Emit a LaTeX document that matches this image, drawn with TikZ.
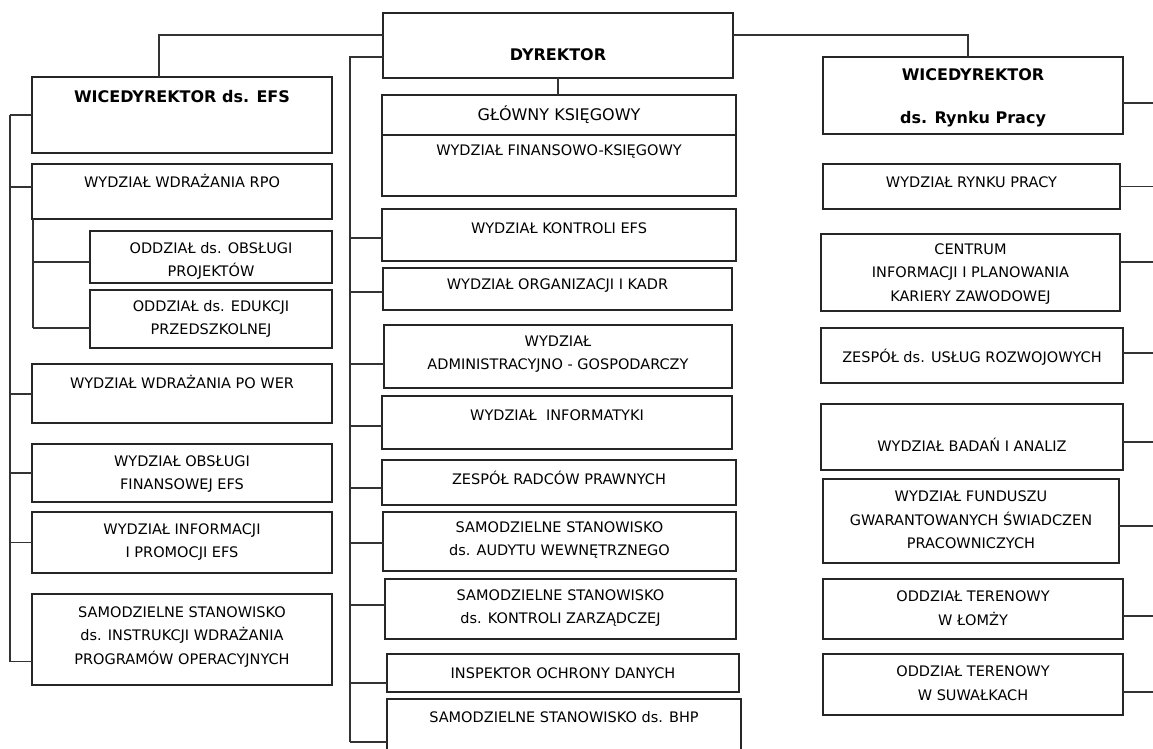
\documentclass[tikz,border=0pt]{standalone}
\usepackage{fontspec}
\setmainfont{DejaVu Sans}
\usetikzlibrary{calc}
\newcommand{\bxfont}{\fontsize{14.5}{23.5}\selectfont}
\newcommand{\hdfont}{\fontsize{16}{20}\selectfont\bfseries}
\newcommand{\orgcell}[7]{%
  \node[cellbox, minimum width={(#4-#2)*1pt}, minimum height={(#5-#3)*1pt}]
    (#1) at ({(#2+#4)/2}, {(#3+#5)/2}) {};
  \node[celltext] (#1-t) at ({(#2+#4)/2}, #6) {#7};}
\tikzset{
  cellbox/.style={draw=black!85, line width=1.3pt, inner sep=0pt, outer sep=0pt},
  celltext/.style={font=\bxfont, align=center, inner sep=0pt},
  link/.style={draw=black!80, line width=1.2pt}
}

\begin{document}
\begin{tikzpicture}[x=1pt, y=-1pt]
    \clip (0,0) rectangle (1153,749);
    \coordinate (lsp) at (10,0);
    \coordinate (isp) at (33,0);
    \coordinate (msp) at (350,0);
    \coordinate (rsp) at (1153,0);

    \orgcell{efs}{32}{77}{332}{153}{97}{\hdfont WICEDYREKTOR ds. EFS}
    \orgcell{rpo}{32}{164}{332}{219}{181}{WYDZIAŁ WDRAŻANIA RPO}
    \orgcell{obs}{90}{231}{332}{283}{261}{ODDZIAŁ ds. OBSŁUGI\\PROJEKTÓW}
    \orgcell{edu}{90}{290}{332}{348}{319}{ODDZIAŁ ds. EDUKCJI\\PRZEDSZKOLNEJ}
    \orgcell{wer}{32}{364}{332}{423}{382}{WYDZIAŁ WDRAŻANIA PO WER}
    \orgcell{fin}{32}{444}{332}{502}{474}{WYDZIAŁ OBSŁUGI\\FINANSOWEJ EFS}
    \orgcell{prom}{32}{512}{332}{573}{542}{WYDZIAŁ INFORMACJI\\I PROMOCJI EFS}
    \orgcell{instr}{32}{594}{332}{685}{637}{SAMODZIELNE STANOWISKO\\ds. INSTRUKCJI WDRAŻANIA\\PROGRAMÓW OPERACYJNYCH}

    \orgcell{dyr}{383}{13}{733}{78}{55}{\hdfont DYREKTOR}
    \orgcell{gk}{382}{95}{736}{135}{115}{\fontsize{16}{20}\selectfont GŁÓWNY KSIĘGOWY}
    \orgcell{fk}{382}{135}{736}{196}{152}{WYDZIAŁ FINANSOWO-KSIĘGOWY}
    \orgcell{kefs}{382}{209}{736}{261}{228}{WYDZIAŁ KONTROLI EFS}
    \orgcell{kadr}{383}{268}{732}{310}{286}{WYDZIAŁ ORGANIZACJI I KADR}
    \orgcell{adm}{384}{325}{732}{388}{354}{WYDZIAŁ\\ADMINISTRACYJNO - GOSPODARCZY}
    \orgcell{it}{382}{396}{732}{449}{415}{WYDZIAŁ\ \ INFORMATYKI}
    \orgcell{radc}{382}{460}{736}{505}{478}{ZESPÓŁ RADCÓW PRAWNYCH}
    \orgcell{aud}{383}{512}{736}{571}{540}{SAMODZIELNE STANOWISKO\\ds. AUDYTU WEWNĘTRZNEGO}
    \orgcell{kzar}{385}{579}{736}{639}{608}{SAMODZIELNE STANOWISKO\\ds. KONTROLI ZARZĄDCZEJ}
    \orgcell{iod}{387}{654}{739}{692}{673}{INSPEKTOR OCHRONY DANYCH}
    \orgcell{bhp}{387}{699}{741}{762}{717}{SAMODZIELNE STANOWISKO ds. BHP}

    \orgcell{ryn}{823}{57}{1123}{134}{98}{\hdfont WICEDYREKTOR\\[19pt]\hdfont ds. Rynku Pracy}
    \orgcell{rp}{823}{164}{1120}{209}{182}{WYDZIAŁ RYNKU PRACY}
    \orgcell{cent}{821}{234}{1120}{311}{274}{CENTRUM\\INFORMACJI I PLANOWANIA\\KARIERY ZAWODOWEJ}
    \orgcell{usl}{821}{328}{1123}{383}{357}{ZESPÓŁ ds. USŁUG ROZWOJOWYCH}
    \orgcell{bad}{821}{404}{1123}{470}{445}{WYDZIAŁ BADAŃ I ANALIZ}
    \orgcell{fgsp}{823}{479}{1119}{563}{520}{WYDZIAŁ FUNDUSZU\\GWARANTOWANYCH ŚWIADCZEN\\PRACOWNICZYCH}
    \orgcell{lom}{823}{579}{1123}{639}{608}{ODDZIAŁ TERENOWY\\W ŁOMŻY}
    \orgcell{suw}{823}{654}{1123}{715}{683}{ODDZIAŁ TERENOWY\\W SUWAŁKACH}

    \draw[link] ([yshift=10.5pt]dyr.west) -| ([xshift=-23pt]efs.north);
    \draw[link] ([yshift=10.5pt]dyr.east) -| ([xshift=-5pt]ryn.north);
    \draw[link] (dyr.south) -- (dyr.south |- gk.north);

    \foreach \n/\s in {efs/0, rpo/4.5, wer/-0.5, fin/0, prom/0, instr/-22} {
      \coordinate (\n-c) at ([yshift=\s pt]\n.west);
      \draw[link] (\n-c) -- (lsp |- \n-c);
    }
    \draw[link] (lsp |- efs-c) -- (lsp |- instr-c);

    \foreach \n/\s in {obs/-5, edu/-9} {
      \coordinate (\n-c) at ([yshift=\s pt]\n.west);
      \draw[link] (\n-c) -- (isp |- \n-c);
    }
    \draw[link] (isp |- rpo.south) -- (isp |- edu-c);

    \coordinate (dyr-c) at ([yshift=-11.5pt]dyr.west);
    \foreach \n/\s in {kefs/-3, kadr/-3, adm/-7.5, it/-3.5, radc/-5.5,
      aud/-1.5, kzar/4, iod/-10, bhp/-11.5} {
      \coordinate (\n-c) at ([yshift=\s pt]\n.west);
      \draw[link] (\n-c) -- (msp |- \n-c);
    }
    \draw[link] (dyr-c) -| (msp |- bhp-c);

    \foreach \n/\s in {ryn/-7.5, rp/0, cent/10.5, usl/2.5, bad/-5,
      fgsp/-5, lom/-7, suw/-7.5} {
      \coordinate (\n-c) at ([yshift=\s pt]\n.east);
      \draw[link] (\n-c) -- (rsp |- \n-c);
    }
  \end{tikzpicture}
\end{document}
